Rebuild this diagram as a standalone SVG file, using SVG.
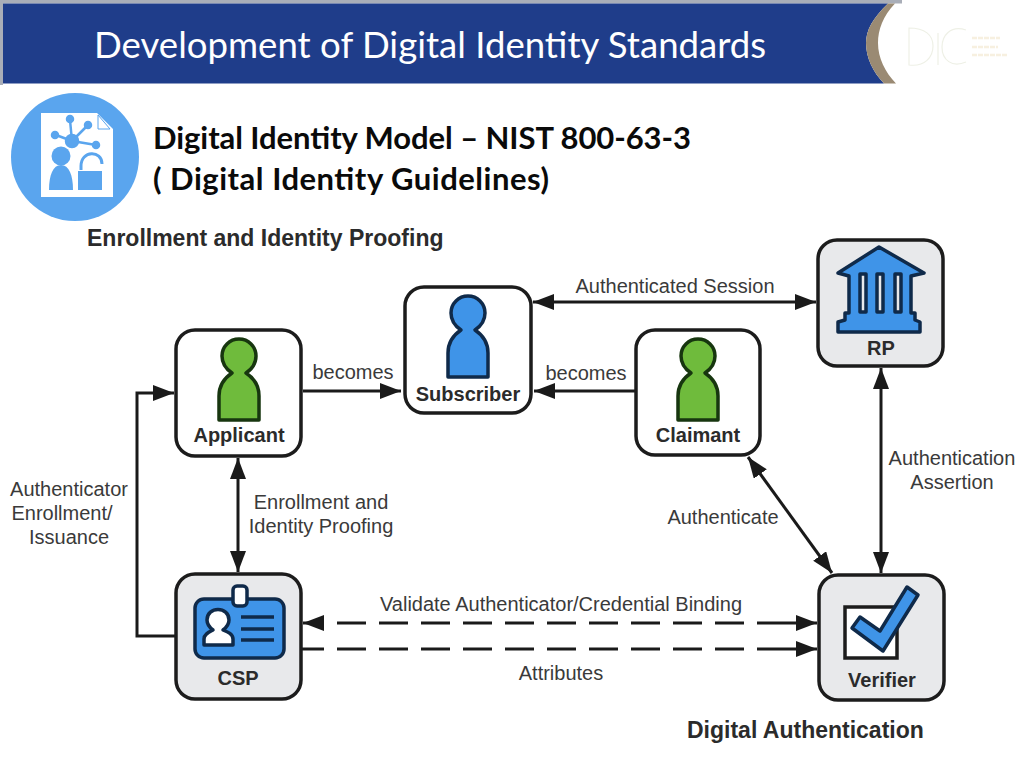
<svg xmlns="http://www.w3.org/2000/svg" xmlns:xlink="http://www.w3.org/1999/xlink" width="1024" height="768" viewBox="0 0 1024 768">
<style>
text{font-family:"Liberation Sans",Arial,sans-serif;fill:#3a3a3a;font-size:20px}
.c{text-anchor:middle}
.b{font-weight:bold;fill:#2b2b2b}
.t{font-size:23px}
.box{stroke:#1c1c1c;stroke-width:3.5}
.grey{fill:#e8e9eb}
.white{fill:#fff}
.conn{fill:none;stroke:#1a1a1a;stroke-width:3}
.dash{stroke-dasharray:29 13}
.ico{stroke:#0f2a4a;stroke-width:3.5;stroke-linejoin:round}
.gi{stroke:#17360f}
.blue{fill:#3f94e8}
.green{fill:#6fbb3c}
.head{font-family:Lato,"Open Sans",sans-serif;fill:#fff;font-size:36.600px}
.sub{font-family:Lato,"Open Sans",sans-serif;font-weight:bold;fill:#0a0a0a;font-size:31px}
.lg{fill:#5aa5ee}
</style>
<defs>
<marker id="a" markerUnits="userSpaceOnUse" markerWidth="22" markerHeight="18" refX="21" refY="8" orient="auto-start-reverse"><path d="M0 0 L21 8 L0 16 Z" fill="#1a1a1a"/></marker>
<path id="person" d="M-20 64V40C-20 27-13 21-7 17C-13 13-17 7-17 0A17 17 0 0 1 17 0C17 7 13 13 7 17C13 21 20 27 20 40V64Z"/>
</defs>
<rect width="1024" height="768" fill="#fff"/>
<g id="header">
<rect x="0" y="0" width="902" height="3.500" fill="#a9aeb8"/>
<rect x="0" y="0" width="3" height="85" fill="#a9aeb8"/>
<path d="M3 3.500H888C873 18 866 30 866 43C866 58 873 72 884 83.500H3Z" fill="#1f3d8a"/>
<path d="M888 3.500H895C883 16 878 30 878 43C878 58 885 72 896 83.500H884C873 72 866 58 866 43C866 30 873 18 888 3.500Z" fill="#9a8a73"/>
<text class="head" x="94" y="58">Development of Digital Identity Standards</text>
<g id="logo" fill="none" stroke="#eef0e6" stroke-width="1.200"><path d="M909 28V65C925 67 933 57 933 46C933 35 925 28 909 28Z"/><path d="M938 33V65"/><path d="M966 30C950 25 942 36 942 47C942 60 952 68 966 62"/></g>
<g stroke="#f7f0e0" stroke-width="2.500" stroke-dasharray="5 1"><path d="M972 38H1000M972 47H998M972 55H1007"/></g>
</g>
<g id="badge">
<circle cx="75" cy="157" r="64" class="lg"/>
<path d="M41 113H97L113 129V197H41Z" fill="#fff"/>
<path d="M98 115L110 129H98Z" fill="#fff" stroke="#5aa5ee" stroke-width="1"/>
<g stroke="#5aa5ee" stroke-width="2.500" fill="#5aa5ee"><path d="M72 141L70 120M72 141L88 125M72 141L96 145M72 141L56 135" fill="none"/><circle cx="72" cy="141" r="6"/><circle cx="70" cy="119" r="3"/><circle cx="88" cy="125" r="3"/><circle cx="96" cy="145" r="3"/><circle cx="55" cy="135" r="3"/></g>
<circle cx="61" cy="156" r="9.500" class="lg"/>
<path d="M49 190C49 175 53 165 61 165C69 165 73 175 73 190Z" class="lg"/>
<path d="M78 171V190H102V171Z" class="lg"/>
<path d="M81 170V166C81 150 102 150 102 164" fill="none" stroke="#5aa5ee" stroke-width="3"/>
</g>
<text class="sub" x="153" y="149" textLength="538" lengthAdjust="spacing">Digital Identity Model – NIST 800-63-3</text>
<text class="sub" x="153" y="190" textLength="396" lengthAdjust="spacing">( Digital Identity Guidelines)</text>

<g id="connectors">
<path class="conn" d="M303 391H401" marker-end="url(#a)"/>
<path class="conn" d="M635 391H534" marker-end="url(#a)"/>
<path class="conn" d="M533 302H816" marker-start="url(#a)" marker-end="url(#a)"/>
<path class="conn" d="M238 458V572" marker-start="url(#a)" marker-end="url(#a)"/>
<path class="conn" d="M175 636H137V393H174" marker-end="url(#a)"/>
<path class="conn" d="M881 368V573" marker-start="url(#a)" marker-end="url(#a)"/>
<path class="conn" d="M748 457L832 573" marker-start="url(#a)" marker-end="url(#a)"/>
<path class="conn" d="M303 623H324" marker-start="url(#a)"/>
<path class="conn dash" d="M337 623H780"/>
<path class="conn" d="M780 623H817" marker-end="url(#a)"/>
<path class="conn" d="M302 649H324"/>
<path class="conn dash" d="M337 649H780"/>
<path class="conn" d="M780 649H817" marker-end="url(#a)"/>
</g>

<g id="applicant">
<rect class="box white" x="176" y="330" width="125" height="126" rx="19"/>
<use xlink:href="#person" href="#person" x="239" y="356" class="ico gi green"/>
<text class="c b" x="239" y="442">Applicant</text>
</g>
<g id="subscriber">
<rect class="box white" x="405" y="287" width="126" height="126" rx="19"/>
<use xlink:href="#person" href="#person" x="468" y="313" class="ico blue"/>
<text class="c b" x="468" y="401">Subscriber</text>
</g>
<g id="claimant">
<rect class="box white" x="636" y="330" width="124" height="125" rx="19"/>
<use xlink:href="#person" href="#person" x="698" y="356" class="ico gi green"/>
<text class="c b" x="698" y="442">Claimant</text>
</g>
<g id="rp">
<rect class="box grey" x="818" y="240" width="125" height="126" rx="19"/>
<path class="ico blue" d="M879 247L924 273L911 276V313H915V320L920 322V332H838V322L845 320V313H849V276L838 273Z"/>
<g class="ico" fill="#e8e9eb" stroke-width="3"><rect x="860" y="274" width="6" height="38"/><rect x="877" y="274" width="6" height="38"/><rect x="895" y="274" width="6" height="38"/></g>
<text class="c b" x="881" y="355">RP</text>
</g>
<g id="csp">
<rect class="box grey" x="176" y="574" width="125" height="125" rx="19"/>
<rect class="ico blue" x="195" y="599" width="89" height="59" rx="9"/>
<rect class="ico" fill="#fff" x="233" y="586" width="14" height="20" rx="4"/>
<path class="ico" fill="#fff" stroke-width="2.500" d="M204 645V639C204 634 209 632 213 630C209 627 207 623 207 620C207 606 229 606 229 620C229 623 227 627 223 630C228 632 233 634 233 639V645Z"/>
<path d="M241 617H274M241 629H274M241 640H274" stroke="#0f2a4a" stroke-width="3.500" fill="none"/>
<text class="c b" x="238" y="685">CSP</text>
</g>
<g id="verifier">
<rect class="box grey" x="819" y="575" width="125" height="125" rx="19"/>
<rect x="845" y="607" width="52" height="51" fill="#fff" stroke="#1c1c1c" stroke-width="3.500"/>
<path class="ico blue" d="M852 628L860 617L880 631L907 587L918 595L883 651Z"/>
<text class="c b" x="882" y="687">Verifier</text>
</g>

<g id="labels">
<text class="b t" x="87" y="246">Enrollment and Identity Proofing</text>
<text class="b t" x="687" y="738">Digital Authentication</text>
<text class="c" x="353" y="379">becomes</text>
<text class="c" x="586" y="380">becomes</text>
<text class="c" x="675" y="293">Authenticated Session</text>
<text class="c" x="69" y="496">Authenticator</text>
<text class="c" x="62" y="520">Enrollment/</text>
<text class="c" x="69" y="544">Issuance</text>
<text class="c" x="321" y="509">Enrollment and</text>
<text class="c" x="321" y="533">Identity Proofing</text>
<text class="c" x="952" y="465">Authentication</text>
<text class="c" x="952" y="489">Assertion</text>
<text class="c" x="723" y="524">Authenticate</text>
<text class="c" x="561" y="611">Validate Authenticator/Credential Binding</text>
<text class="c" x="561" y="680">Attributes</text>
</g>
</svg>
